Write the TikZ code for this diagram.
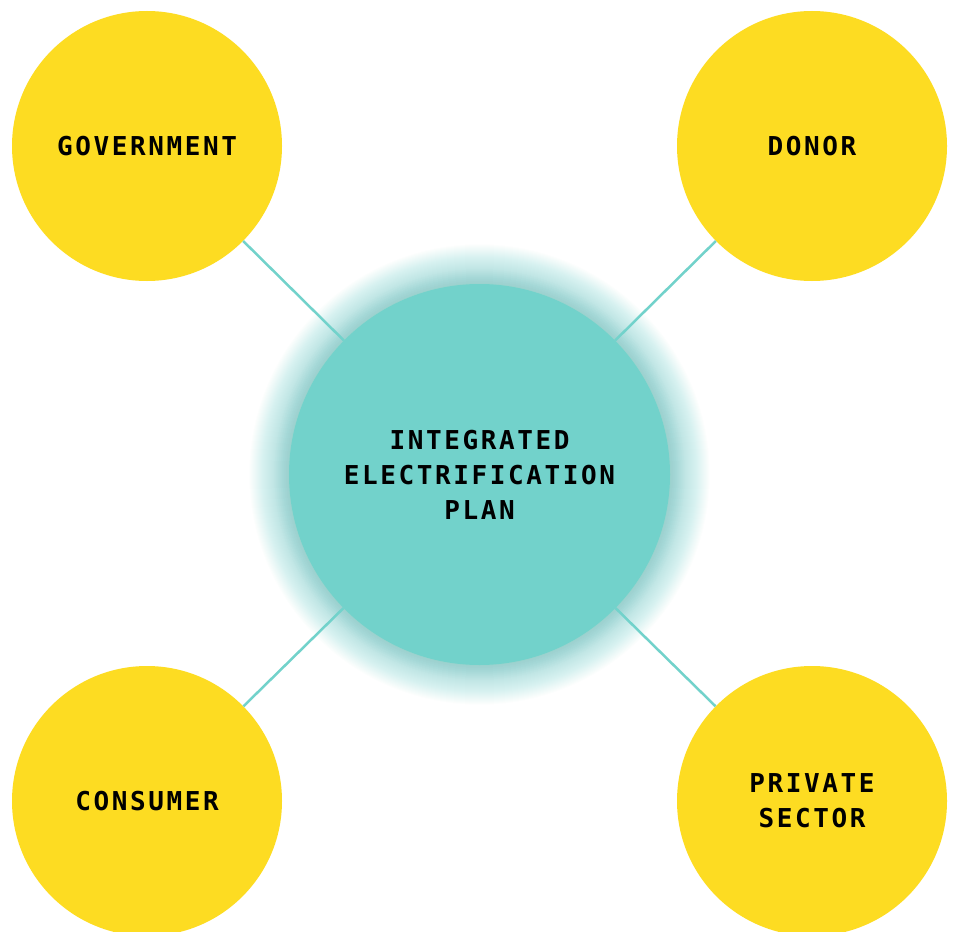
\documentclass[tikz,border=0pt]{standalone}
\usepackage{fontspec}
\newfontfamily\lblfont[LetterSpace=10]{DejaVu Sans Mono}
\definecolor{sun}{HTML}{FDDC22}
\definecolor{sea}{HTML}{72D2CB}
\begin{document}
\begin{tikzpicture}[x=1pt,y=-1pt,
  label font/.style={font=\lblfont\bfseries\fontsize{26}{35}\selectfont},
  party/.style={circle,fill=sun,minimum size=270pt,inner sep=0pt,align=center,label font},
  hub/.style={circle,fill=sea,minimum size=381pt,inner sep=0pt,align=center,label font},
  glowring/.style={fill=sea,fill opacity=0.018},
  link/.style={draw=sea,line width=2.5pt}]
\useasboundingbox (0,0) rectangle (955,931);
\fill[white] (0,0) rectangle (955,931);
\foreach \r in {230,229,...,191}{
  \fill[glowring] (479.5,474.5) circle[radius=\r];
}
\foreach \r in {205,203,...,191}{
  \fill[glowring] (479.5,474.5) circle[radius=\r];
}
\node[party] (gov) at (147,146) {GOVERNMENT};
\node[party] (don) at (812,146) {DONOR};
\node[party] (con) at (147,801) {CONSUMER};
\node[party] (pri) at (812,801) {PRIVATE\\SECTOR};
\node[hub] (hub) at (479.5,474.5) {INTEGRATED\\ELECTRIFICATION\\PLAN};
\draw[link] (gov) -- (hub);
\draw[link] (don) -- (hub);
\draw[link] (con) -- (hub);
\draw[link] (pri) -- (hub);
\end{tikzpicture}
\end{document}
